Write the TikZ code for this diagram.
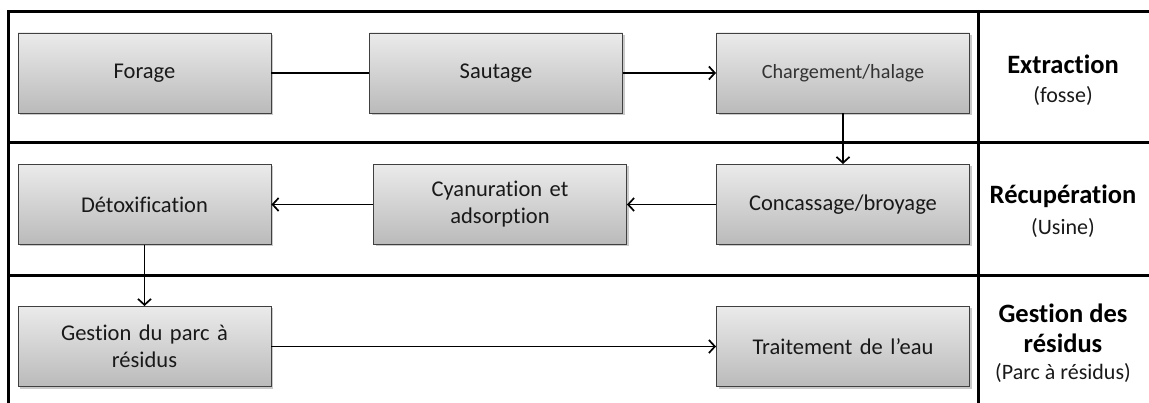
\documentclass[tikz,border=0pt]{standalone}
\usepackage{fontspec}
\setmainfont{Carlito}[Ligatures=NoCommon]
\usetikzlibrary{arrows.meta,shadows}
\tikzset{
  procbox/.style={draw=black!75, line width=0.9pt, top color=black!8, bottom color=black!27,
    minimum width=253pt, minimum height=80pt, align=center, text width=240pt,
    font=\fontsize{22.5}{27}\selectfont, text=black!90,
    drop shadow={shadow xshift=2pt, shadow yshift=-2pt, opacity=0.35, fill=black!60}},
  frameline/.style={line width=3pt, black},
  conn/.style={line width=1.7pt, black},
  arr/.style={conn, -{Straight Barb[length=6pt,width=13pt,line width=1.7pt]}},
  lanetitle/.style={align=center, font=\fontsize{26.5}{30}\selectfont\bfseries, text=black},
  lanesub/.style={align=center, font=\fontsize{22}{26}\selectfont, text=black!90},
}
\begin{document}
\begin{tikzpicture}[x=1pt,y=-1pt]
\useasboundingbox (0,0) rectangle (1149,403);
% frame
\coordinate (tl) at (8,12);
\coordinate (tr) at (1149,12);
\coordinate (bl) at (8,403);
\coordinate (dt) at (978,12);
\coordinate (db) at (978,403);
\coordinate (h1l) at (8,143);
\coordinate (h1r) at (1149,143);
\coordinate (h2l) at (8,276);
\coordinate (h2r) at (1149,276);
\draw[frameline] (bl) -- (tl) -- (tr);
\draw[frameline] (dt) -- (db);
\draw[frameline] (h1l) -- (h1r);
\draw[frameline] (h2l) -- (h2r);
% boxes
\node[procbox] (forage) at (144.5,73) {Forage};
\node[procbox, font=\fontsize{20.2}{24}\selectfont, text=black!80] (charg) at (843,73) {Chargement/halage};
\node[procbox] (sautage) at (496,73) {Sautage};
\node[procbox] (detox) at (144.5,204.5) {Détoxification};
\node[procbox] (cyan) at (500,204.5) {Cyanuration et\\adsorption};
\node[procbox] (conc) at (843,204.5) {Concassage/broyage};
\node[procbox] (gest) at (144.5,346.5) {Gestion du parc à\\résidus};
\node[procbox] (trait) at (843,346.5) {Traitement de l’eau};
% connectors
\draw[conn] (forage) -- (sautage);
\draw[arr] (sautage) -- (charg);
\draw[arr] (charg) -- (conc);
\draw[arr] (conc) -- (cyan);
\draw[arr] (cyan) -- (detox);
\draw[arr] (detox) -- (gest);
\draw[arr] (gest) -- (trait);
% lane labels
\node[lanetitle] (l1) at (1063,64) {Extraction};
\node[lanesub] (l1s) at (1063,96) {(fosse)};
\node[lanetitle] (l2) at (1063,196) {Récupération};
\node[lanesub] (l2s) at (1063,228) {(Usine)};
\node[lanetitle] (l3) at (1063,328) {Gestion des\\résidus};
\node[lanesub] (l3s) at (1063,373) {(Parc à résidus)};
\end{tikzpicture}
\end{document}
